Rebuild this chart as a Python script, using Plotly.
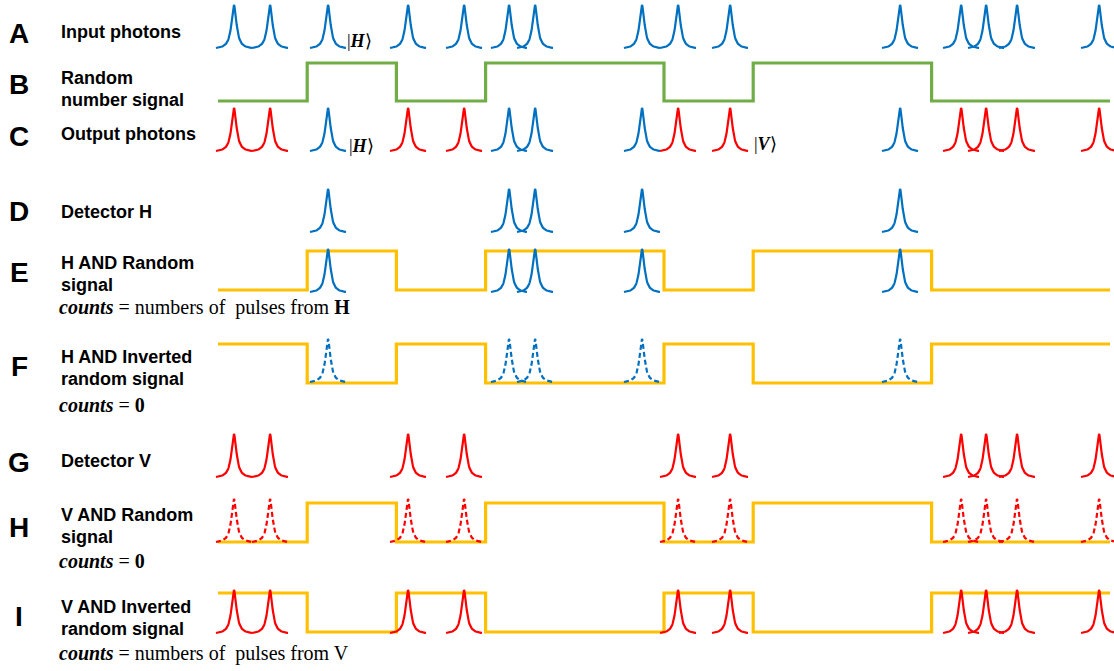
import numpy as np
import plotly.graph_objects as go

# ---------------- data ----------------
# random number bits per time slot (10 slots)
random_bits = [0, 1, 0, 1, 1, 0, 1, 1, 0, 0]
# photon arrival times (in units of a random-bit slot)
photon_times = [0.179, 0.583, 1.233, 2.130, 2.758, 3.262, 3.554, 4.753,
                5.157, 5.740, 7.646, 8.330, 8.610, 8.957, 9.877]

row_letters = ["A", "B", "C", "D", "E", "F", "G", "H", "I"]
row_labels = [
    ["Input photons"],
    ["Random", "number signal"],
    ["Output photons"],
    ["Detector H"],
    ["H AND Random", "signal"],
    ["H AND Inverted", "random signal"],
    ["Detector V"],
    ["V AND Random", "signal"],
    ["V AND Inverted", "random signal"],
]
counts_E = "<b><i>counts</i></b> = numbers of  pulses from <b>H</b>"
counts_F = "<b><i>counts</i></b> = <b>0</b>"
counts_H = "<b><i>counts</i></b> = <b>0</b>"
counts_I = "<b><i>counts</i></b> = numbers of  pulses from V"

# ---------------- styles / layout ----------------
W, H = 1114, 671
PX_PER_SLOT = 89.2
X0 = 218.0
BLUE = "#0070C0"
RED = "#FF0000"
GREEN = "#70AD47"
YELLOW = "#FFC000"
PULSE_H = 43.0
HALF_W = 18.0 / PX_PER_SLOT
GAMMA = 3.0 / PX_PER_SLOT

n = len(random_bits)
h_times = [t for t in photon_times if random_bits[int(t)] == 1]
v_times = [t for t in photon_times if random_bits[int(t)] == 0]
inv_bits = [1 - b for b in random_bits]

fig = go.Figure()


def pulses(times, base, color, dash="solid"):
    u = np.linspace(-HALF_W, HALF_W, 81)
    prof = 1.0 / (1.0 + (u / GAMMA) ** 2)
    prof = (prof - prof.min()) / (prof.max() - prof.min())
    xs, ys = [], []
    for t in times:
        xs += list(t + u) + [None]
        ys += list(base - PULSE_H * prof) + [None]
    fig.add_trace(go.Scatter(x=xs, y=ys, mode="lines",
                             line=dict(color=color, width=2.2, dash=dash),
                             hoverinfo="skip", showlegend=False))


def signal(bits, y_hi, y_lo, color):
    xs = list(range(n + 1))
    vals = list(bits) + [bits[-1]]
    ys = [y_lo - b * (y_lo - y_hi) for b in vals]
    fig.add_trace(go.Scatter(x=xs, y=ys, mode="lines", line_shape="hv",
                             line=dict(color=color, width=3.2),
                             hoverinfo="skip", showlegend=False))


# A: input photons (all H)
pulses(photon_times, 48, BLUE)
# B: random number signal
signal(random_bits, 63, 101, GREEN)
# C: output photons
pulses(h_times, 151, BLUE)
pulses(v_times, 151, RED)
# D: detector H
pulses(h_times, 232, BLUE)
# E: H AND random
signal(random_bits, 251, 290, YELLOW)
pulses(h_times, 292, BLUE)
# F: H AND inverted
signal(inv_bits, 344, 383, YELLOW)
pulses(h_times, 382, BLUE, dash="5px,3px")
# G: detector V
pulses(v_times, 477, RED)
# H: V AND random
signal(random_bits, 503, 542, YELLOW)
pulses(v_times, 542, RED, dash="5px,3px")
# I: V AND inverted
signal(inv_bits, 593, 632, YELLOW)
pulses(v_times, 633, RED)

ann = []
letter_y = [33, 84, 136, 211, 272, 366, 462, 527, 616]
for L, y in zip(row_letters, letter_y):
    ann.append(dict(x=19 / W, y=1 - y / H, xref="paper", yref="paper",
                    text="<b>%s</b>" % L, showarrow=False,
                    xanchor="center", yanchor="middle",
                    font=dict(family="Liberation Sans, Arial", size=28, color="black")))

label_y = [[31.5], [77.5, 100], [134], [212], [263, 285], [357, 379], [461],
           [515, 537], [607, 629]]
for lines, ys in zip(row_labels, label_y):
    for t, y in zip(lines, ys):
        ann.append(dict(x=59 / W, y=1 - y / H, xref="paper", yref="paper",
                        text="<b>%s</b>" % t, showarrow=False,
                        xanchor="left", yanchor="middle",
                        font=dict(family="Liberation Sans, Arial", size=18, color="black")))

for t, y in [(counts_E, 307), (counts_F, 405), (counts_H, 561), (counts_I, 653)]:
    ann.append(dict(x=57 / W, y=1 - y / H, xref="paper", yref="paper",
                    text=t, showarrow=False, xanchor="left", yanchor="middle",
                    font=dict(family="Liberation Serif", size=20, color="black")))

for t, x, y in [("|<b><i>H</i></b>⟩", 345, 41), ("|<b><i>H</i></b>⟩", 347, 146),
                ("|<b><i>V</i></b>⟩", 752, 144)]:
    ann.append(dict(x=x / W, y=1 - y / H, xref="paper", yref="paper",
                    text=t, showarrow=False, xanchor="left", yanchor="middle",
                    font=dict(family="Liberation Serif", size=18, color="black")))

fig.update_layout(
    width=W, height=H, margin=dict(l=0, r=0, t=0, b=0),
    paper_bgcolor="white", plot_bgcolor="white",
    xaxis=dict(range=[-X0 / PX_PER_SLOT, (W - X0) / PX_PER_SLOT], visible=False,
               fixedrange=True),
    yaxis=dict(range=[H, 0], visible=False, fixedrange=True),
    annotations=ann,
)
fig.write_html("out.html", config={"displayModeBar": False},
               post_script="document.body.style.margin='0px';")
